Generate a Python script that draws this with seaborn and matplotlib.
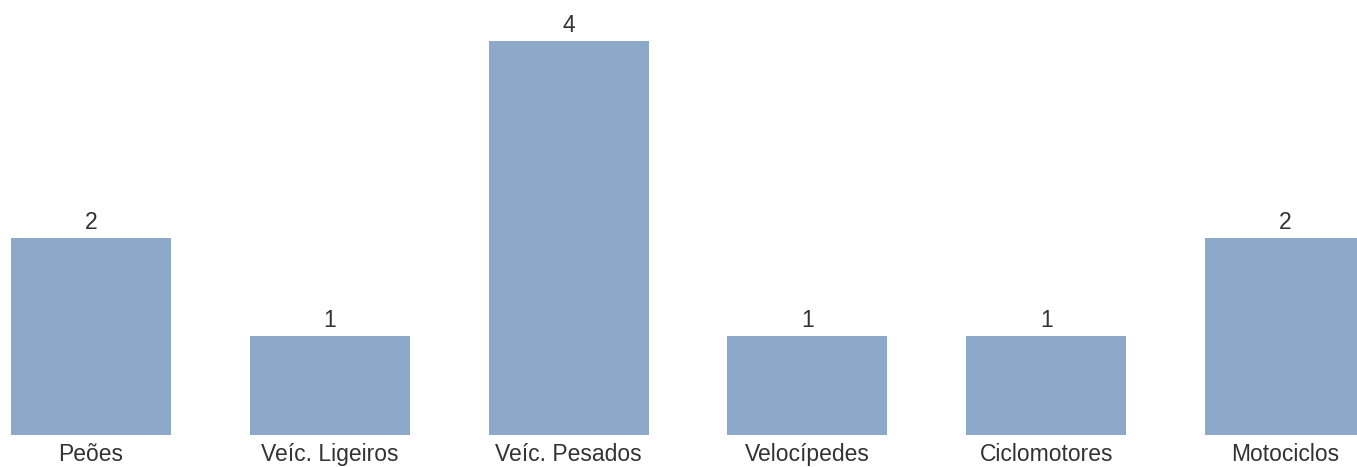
import pandas as pd
import seaborn as sns
import matplotlib.pyplot as plt

categories = ["Peões", "Veíc. Ligeiros", "Veíc. Pesados", "Velocípedes", "Ciclomotores", "Motociclos"]
values = [2, 1, 4, 1, 1, 2]

df = pd.DataFrame({"categoria": categories, "valor": values})

sns.set_theme(style="white")
plt.rcParams["font.family"] = ["Liberation Sans", "DejaVu Sans"]

fig = plt.figure(figsize=(13.57, 4.67), dpi=100)
ax = fig.add_axes([0, 32.5 / 467, 1, 434.5 / 467])

sns.barplot(data=df, x="categoria", y="valor", color="#8da9c9", saturation=1,
            width=0.67, linewidth=0, ax=ax)

ax.set_xlim(-0.381, 5.301)
ax.set_ylim(0, 434.5 / 98.3)

# value labels above the bars
for i, v in enumerate(values):
    ax.annotate(str(v), (i, v), xytext=(0, 6.5), textcoords="offset points",
                ha="center", va="baseline", fontsize=16.5, color="#333333")

ax.set_xlabel("")
ax.set_ylabel("")
ax.set_yticks([])
ax.tick_params(axis="x", length=0, pad=6, labelsize=16.5, labelcolor="#333333")
sns.despine(left=True, bottom=True)

fig.savefig("out.png", dpi=100)
